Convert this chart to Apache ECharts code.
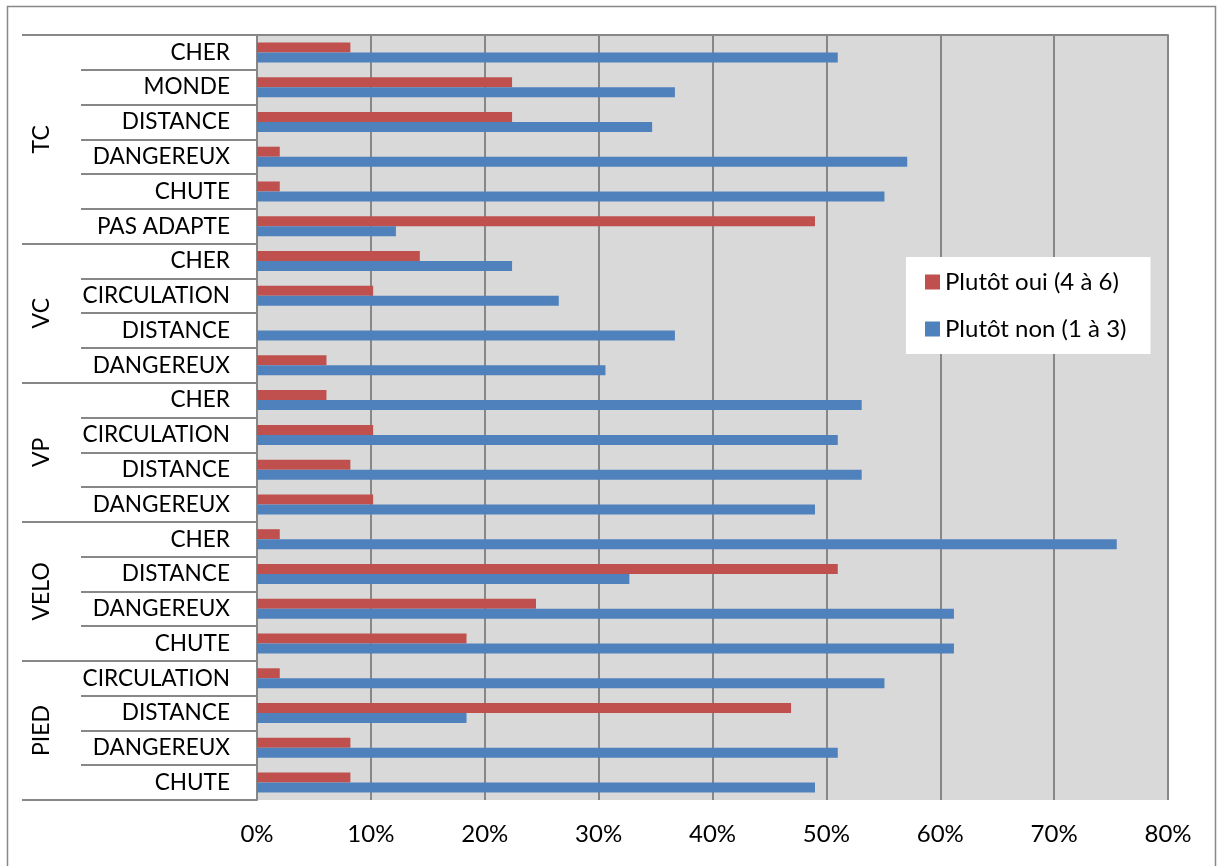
<!DOCTYPE html>
<html>
<head>
<meta charset="utf-8">
<script src="https://cdn.jsdelivr.net/npm/echarts@6/dist/echarts.min.js"></script>
<style>
  html, body { margin: 0; padding: 0; background: #fff; }
  #chart { width: 1218px; height: 866px; }
</style>
</head>
<body>
<div id="chart"></div>
<script>
// Rows, top to bottom
const rowLabels = [
  'CHER', 'MONDE', 'DISTANCE', 'DANGEREUX', 'CHUTE', 'PAS ADAPTE',
  'CHER', 'CIRCULATION', 'DISTANCE', 'DANGEREUX',
  'CHER', 'CIRCULATION', 'DISTANCE', 'DANGEREUX',
  'CHER', 'DISTANCE', 'DANGEREUX', 'CHUTE',
  'CIRCULATION', 'DISTANCE', 'DANGEREUX', 'CHUTE'
];
const groupNames = ['TC', 'VC', 'VP', 'VELO', 'PIED'];
const groupSizes = [6, 4, 4, 4, 4];

// Percent values
const ouiValues = [
  8.2, 22.4, 22.4, 2.0, 2.0, 49.0,
  14.3, 10.2, 0, 6.1,
  6.1, 10.2, 8.2, 10.2,
  2.0, 51.0, 24.5, 18.4,
  2.0, 46.9, 8.2, 8.2
];
const nonValues = [
  51.0, 36.7, 34.7, 57.1, 55.1, 12.2,
  22.4, 26.5, 36.7, 30.6,
  53.1, 51.0, 53.1, 49.0,
  75.5, 32.7, 61.2, 61.2,
  55.1, 18.4, 51.0, 49.0
];
const xTicks = [0, 10, 20, 30, 40, 50, 60, 70, 80];

const ouiName = 'Plutôt oui (4 à 6)';
const nonName = 'Plutôt non (1 à 3)';

const font = 'Lato';
const gray = '#878787';

// Index where each group starts, and the middle of each group
const groupStarts = [];
const groupCenters = {};
let acc = 0;
groupSizes.forEach((size, i) => {
  groupStarts.push(acc);
  groupCenters[acc + size / 2] = groupNames[i];
  acc += size;
});

const chart = echarts.init(document.getElementById('chart'));

chart.setOption({
  animation: false,
  textStyle: { fontFamily: font },
  grid: {
    left: 257,
    right: 50,
    top: 35,
    bottom: 66,
    show: true,
    backgroundColor: '#D9D9D9',
    borderWidth: 0
  },
  legend: {
    data: [ouiName, nonName],
    orient: 'vertical',
    left: 906,
    top: 257,
    backgroundColor: '#fff',
    padding: [13, 24, 13, 19],
    itemWidth: 15,
    itemHeight: 15,
    itemGap: 23,
    icon: 'rect',
    textStyle: { fontFamily: font, fontSize: 24, color: '#000', lineHeight: 22 }
  },
  xAxis: {
    type: 'value',
    min: xTicks[0],
    max: xTicks[xTicks.length - 1],
    interval: xTicks[1] - xTicks[0],
    axisLine: { show: true, lineStyle: { color: gray, width: 2 } },
    axisTick: { show: true, length: 7, lineStyle: { color: gray, width: 2 } },
    splitLine: { show: true, lineStyle: { color: gray, width: 2 } },
    axisLabel: {
      formatter: '{value}%',
      fontFamily: font,
      fontSize: 24,
      color: '#000',
      margin: 22
    }
  },
  yAxis: [
    {
      // row labels
      type: 'category',
      data: rowLabels,
      inverse: true,
      position: 'left',
      axisLine: { show: true, lineStyle: { color: gray, width: 2 } },
      axisTick: { show: true, length: 176, lineStyle: { color: gray, width: 2 } },
      axisLabel: {
        interval: 0,
        fontFamily: font,
        fontSize: 22.6,
        color: '#000',
        margin: 27
      }
    },
    {
      // group separators
      type: 'category',
      data: rowLabels,
      inverse: true,
      position: 'left',
      axisLine: { show: false },
      axisTick: {
        show: true,
        length: 235,
        interval: index => groupStarts.includes(index),
        lineStyle: { color: gray, width: 2 }
      },
      axisLabel: { show: false }
    },
    {
      // group names
      type: 'value',
      min: 0,
      max: rowLabels.length,
      interval: 1,
      inverse: true,
      position: 'left',
      axisLine: { show: false },
      axisTick: { show: false },
      splitLine: { show: false },
      axisLabel: {
        rotate: 90,
        margin: 204,
        fontFamily: font,
        fontSize: 23,
        color: '#000',
        formatter: value => groupCenters[value] || ''
      }
    }
  ],
  series: [
    {
      name: ouiName,
      type: 'bar',
      yAxisIndex: 0,
      data: ouiValues,
      barWidth: 10,
      barGap: '0%',
      itemStyle: { color: '#C0504D' }
    },
    {
      name: nonName,
      type: 'bar',
      yAxisIndex: 0,
      data: nonValues,
      barWidth: 10,
      barGap: '0%',
      itemStyle: { color: '#4F81BD' }
    }
  ],
  graphic: [
    {
      type: 'rect',
      shape: { x: 7.5, y: 6.5, width: 1208, height: 870 },
      style: { fill: null, stroke: gray, lineWidth: 1.5 },
      silent: true
    }
  ]
});
</script>
</body>
</html>
